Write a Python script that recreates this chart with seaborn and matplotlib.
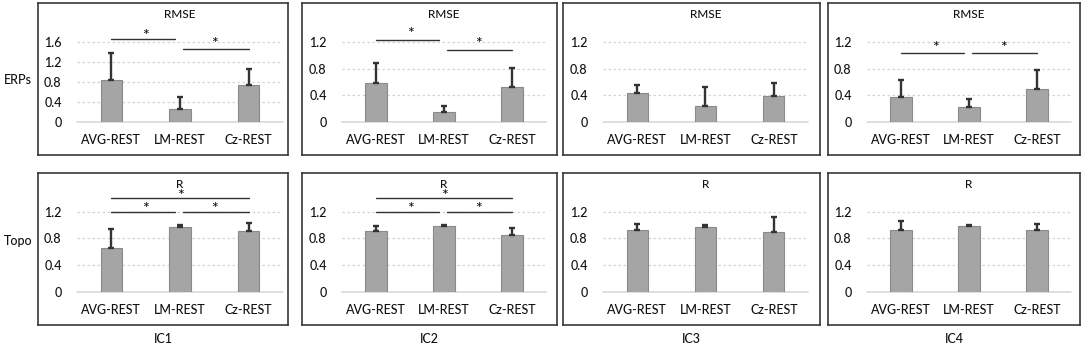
import matplotlib
matplotlib.use("Agg")
import matplotlib.pyplot as plt
import seaborn as sns
import pandas as pd

# data
methods = ["AVG-REST", "LM-REST", "Cz-REST"]
components = ["IC1", "IC2", "IC3", "IC4"]
rows = ["ERPs", "Topo"]
metrics = ["RMSE", "R"]

erp_mean = [[0.84, 0.27, 0.74],
            [0.58, 0.145, 0.53],
            [0.43, 0.24, 0.39],
            [0.38, 0.22, 0.49]]
erp_err = [[0.53, 0.24, 0.32],
           [0.30, 0.095, 0.28],
           [0.125, 0.29, 0.195],
           [0.25, 0.12, 0.285]]
topo_mean = [[0.66, 0.975, 0.905],
             [0.915, 0.985, 0.85],
             [0.925, 0.975, 0.90],
             [0.925, 0.985, 0.925]]
topo_err = [[0.28, 0.025, 0.12],
            [0.07, 0.015, 0.11],
            [0.085, 0.025, 0.215],
            [0.14, 0.015, 0.085]]

# significant pairs per panel: (i, j, line height, star height)
erp_sig = [[(0, 1, 1.65, 1.80), (1, 2, 1.45, 1.65)],
           [(0, 1, 1.23, 1.38), (1, 2, 1.08, 1.23)],
           [],
           [(0, 1, 1.04, 1.18), (1, 2, 1.04, 1.18)]]
topo_sig = [[(0, 2, 1.41, 1.50), (0, 1, 1.19, 1.30), (1, 2, 1.19, 1.30)],
            [(0, 2, 1.41, 1.50), (0, 1, 1.19, 1.30), (1, 2, 1.19, 1.30)],
            [],
            []]
erp_ticks = [[0, 0.4, 0.8, 1.2, 1.6], [0, 0.4, 0.8, 1.2],
             [0, 0.4, 0.8, 1.2], [0, 0.4, 0.8, 1.2]]
topo_ticks = [0, 0.4, 0.8, 1.2]

sns.set_style("white")
plt.rcParams["font.family"] = ["Lato", "DejaVu Sans"]
plt.rcParams["font.weight"] = "medium"
W, H = 1084, 346
fig = plt.figure(figsize=(W / 100, H / 100), dpi=100)

bar_color = "#a5a5a5"
txt = "#111111"
fs = 9

box_x = [(38, 288), (302, 557), (563, 820), (828, 1080)]
plot_x = [(77, 283), (342, 546), (603, 808), (867, 1071)]
box_y = [(3, 155), (173, 325)]
base_y = [122, 291.7]


def px_axes(x0, x1, y0, y1):
    return fig.add_axes([x0 / W, 1 - y1 / H, (x1 - x0) / W, (y1 - y0) / H])


for r in range(2):
    for c in range(4):
        # frame
        fa = px_axes(box_x[c][0], box_x[c][1], box_y[r][0], box_y[r][1])
        fa.set_xticks([])
        fa.set_yticks([])
        for s in fa.spines.values():
            s.set_color("#383838")
            s.set_linewidth(1.2)
        fa.patch.set_alpha(0)

        if r == 0:
            mean, err, sig, ticks = erp_mean[c], erp_err[c], erp_sig[c], erp_ticks[c]
        else:
            mean, err, sig, ticks = topo_mean[c], topo_err[c], topo_sig[c], topo_ticks
        gmax = ticks[-1]
        ppu = 80 / gmax
        ytop = box_y[r][0] + 22
        ax = px_axes(plot_x[c][0], plot_x[c][1], ytop, base_y[r])
        ax.patch.set_alpha(0)
        df = pd.DataFrame({"method": methods, "value": mean})
        sns.barplot(data=df, x="method", y="value", color=bar_color,
                    width=0.31, errorbar=None, ax=ax, saturation=1,
                    edgecolor="#8a8a8a", linewidth=0.8, zorder=3)
        ax.errorbar(range(3), mean, yerr=[[0, 0, 0], err], fmt="none",
                    ecolor="#333333", elinewidth=1.7, capsize=2.2,
                    capthick=1.7, zorder=4)
        ax.set_xlim(-0.5, 2.5)
        ax.set_ylim(0, (base_y[r] - ytop) / ppu)
        ax.set_yticks(ticks)
        ax.set_yticklabels(["0" if t == 0 else f"{t:.1f}" for t in ticks])
        for t in ticks[1:]:
            ax.axhline(t, color="#d4d4d4", lw=0.9, ls=(0, (2, 2)), zorder=1)
        ax.axhline(0, color="#d9d9d9", lw=1.2, zorder=2, clip_on=False)
        for s in ax.spines.values():
            s.set_visible(False)
        ax.tick_params(axis="both", length=0, labelsize=fs, labelcolor=txt)
        ax.tick_params(axis="y", pad=11)
        ax.tick_params(axis="x", pad=9)
        ax.set_xlabel("")
        ax.set_ylabel("")

        for i, j, ly, sy in sig:
            x0 = i
            x1 = j - 0.07 if (j - i == 1 and i == 0) else j
            if j - i == 1 and i == 1:
                x0 = i + 0.04
            ax.plot([x0, x1], [ly, ly], color="#333333", lw=1.0, clip_on=False)
            ax.annotate("*", xy=((i + j) / 2, sy), xytext=(0, -6),
                        textcoords="offset points", ha="center", va="baseline",
                        fontsize=11.5, color=txt, annotation_clip=False)

        fig.text((plot_x[c][0] + plot_x[c][1]) / 2 / W,
                 1 - (box_y[r][0] + 12) / H, metrics[r],
                 ha="center", va="center", fontsize=8.5, color=txt)

for c in range(4):
    fig.text((box_x[c][0] + box_x[c][1]) / 2 / W, 1 - 339 / H, components[c],
             ha="center", va="center", fontsize=fs, color=txt)
fig.text(18 / W, 1 - 80 / H, rows[0], ha="center", va="center", fontsize=fs, color=txt)
fig.text(18 / W, 1 - 241 / H, rows[1], ha="center", va="center", fontsize=fs, color=txt)

fig.savefig("out.png", dpi=100)
